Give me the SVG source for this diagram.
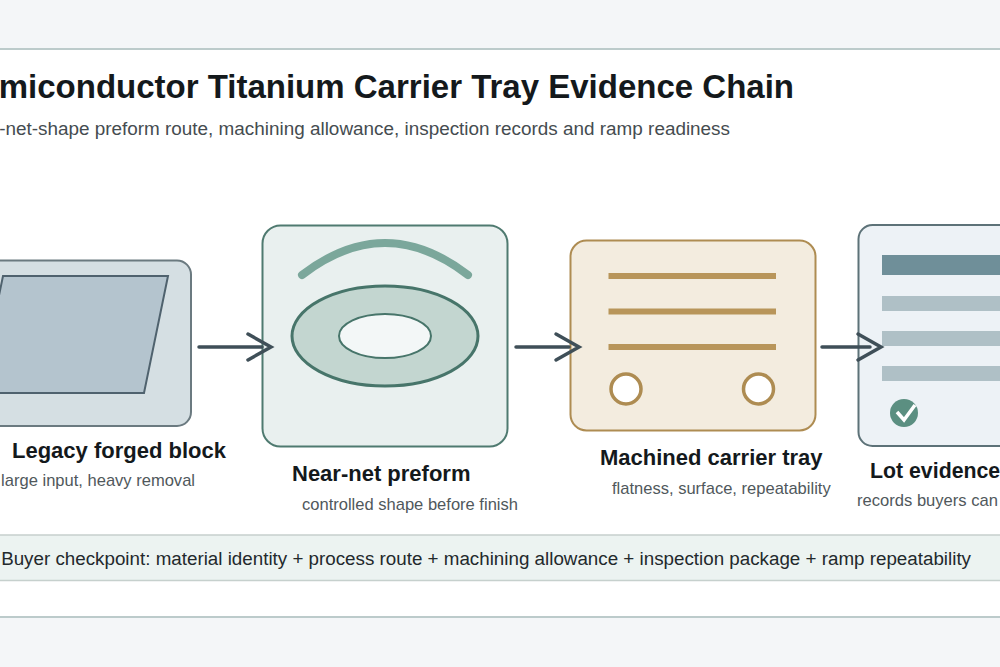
<svg xmlns="http://www.w3.org/2000/svg" width="1000" height="667" viewBox="0 0 1000 667">
<style>
text{font-family:"Liberation Sans",Arial,sans-serif}
.t{font-size:33px;font-weight:700;fill:#14191c}
.s{font-size:18.900px;fill:#454c50}
.h{font-size:22px;font-weight:700;fill:#14191c}
.d{font-size:16.550px;fill:#50585c}
.b{font-size:18.800px;fill:#23292c}
.c{fill:none;stroke:#3f4f58;stroke-width:3.500;stroke-linecap:round;stroke-linejoin:miter}
.tl{fill:#b8955a}
.ev{fill:#afc0c6}
.hole{fill:#fff;stroke:#ae8c52;stroke-width:3.500}
</style>
<rect width="1000" height="667" fill="#f4f6f8"/>
<rect x="-2" y="49" width="1004" height="568" fill="#fff" stroke="#bccbcb" stroke-width="2"/>
<g id="header">
<text class="t" x="794" y="98" text-anchor="end">miconductor Titanium Carrier Tray Evidence Chain</text>
<text class="s" x="730" y="135" text-anchor="end">-net-shape preform route, machining allowance, inspection records and ramp readiness</text>
</g>
<g id="node-legacy">
<rect x="-30" y="260.500" width="221" height="165.500" rx="14" fill="#d5dfe3" stroke="#6b7a80" stroke-width="2"/>
<path d="M3 276H168L144 393H-21Z" fill="#b4c4ce" stroke="#4f626e" stroke-width="2"/>
<text class="h" x="12" y="458">Legacy forged block</text>
<text class="d" x="195" y="486" text-anchor="end">large input, heavy removal</text>
</g>
<g id="node-preform">
<rect x="262.500" y="225.500" width="245" height="221" rx="18" fill="#e9f0ef" stroke="#4f7a70" stroke-width="2"/>
<path d="M302 275Q385 211 468 275" fill="none" stroke="#7ba79b" stroke-width="8" stroke-linecap="round"/>
<ellipse cx="385" cy="336" rx="93" ry="50" fill="#c3d6d0" stroke="#47756a" stroke-width="3"/>
<ellipse cx="385" cy="336" rx="46" ry="22" fill="#f3f7f7" stroke="#47756a" stroke-width="2"/>
<text class="h" x="292" y="481">Near-net preform</text>
<text class="d" x="302" y="510">controlled shape before finish</text>
</g>
<g id="node-tray">
<rect x="570.500" y="240.500" width="245" height="190" rx="16" fill="#f3ecdf" stroke="#ae8c52" stroke-width="2"/>
<rect class="tl" x="608.500" y="273" width="167.500" height="6"/>
<rect class="tl" x="608.500" y="308.500" width="167.500" height="6"/>
<rect class="tl" x="608.500" y="344" width="167.500" height="6"/>
<circle class="hole" cx="626" cy="389" r="15"/>
<circle class="hole" cx="758.500" cy="389" r="15"/>
<text class="h" x="600" y="465">Machined carrier tray</text>
<text class="d" x="612" y="494">flatness, surface, repeatability</text>
</g>
<g id="node-evidence">
<rect x="858.500" y="225" width="180" height="221" rx="14" fill="#edf2f6" stroke="#5d7278" stroke-width="2"/>
<rect x="882" y="255" width="130" height="20" fill="#6f8f99"/>
<rect class="ev" x="882" y="296" width="130" height="15"/>
<rect class="ev" x="882" y="331" width="130" height="15"/>
<rect class="ev" x="882" y="366" width="130" height="15"/>
<circle cx="904" cy="413" r="14" fill="#5b8f81"/>
<path d="M897 412L904 420L915 405" fill="none" stroke="#fff" stroke-width="3.500"/>
<text x="870" y="478" font-size="21.300" font-weight="700" fill="#14191c">Lot evidence</text>
<text class="d" x="857" y="506" textLength="141" lengthAdjust="spacingAndGlyphs">records buyers can</text>
</g>
<g id="connectors">
<path class="c" d="M199 347H262"/><path class="c" d="M248 334L271 347L248 360"/>
<path class="c" d="M516 347H569"/><path class="c" d="M556 334L579 347L556 360"/>
<path class="c" d="M822 347H870"/><path class="c" d="M858 334L881 347L858 360"/>
</g>
<g id="checkpoint">
<rect x="-2" y="535" width="1004" height="45.500" fill="#ecf3f1" stroke="#c6d0cd" stroke-width="1.500"/>
<text class="b" x="971" y="565" text-anchor="end">Buyer checkpoint: material identity + process route + machining allowance + inspection package + ramp repeatability</text>
</g>
</svg>
